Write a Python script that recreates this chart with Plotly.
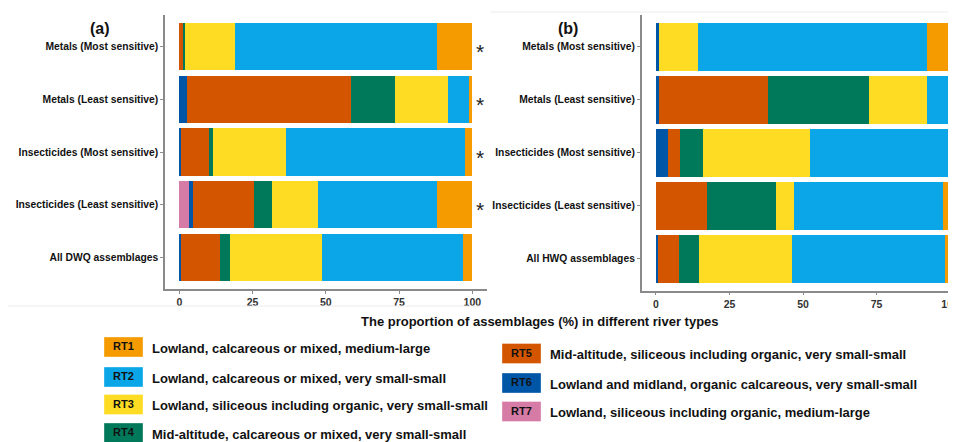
import plotly.graph_objects as go

# The page body has an 8px default margin; the figure is sized so that it ends at the window edge,
# and all positions below are given in window pixels (converted with OFF).
WIN_W, WIN_H = 956, 442
OFF = 8
W, H = WIN_W - OFF, WIN_H - OFF

cats_a = ["Metals (Most sensitive)", "Metals (Least sensitive)", "Insecticides (Most sensitive)",
          "Insecticides (Least sensitive)", "All DWQ assemblages"]
cats_b = ["Metals (Most sensitive)", "Metals (Least sensitive)", "Insecticides (Most sensitive)",
          "Insecticides (Least sensitive)", "All HWQ assemblages"]

river_types = ["RT7", "RT6", "RT5", "RT4", "RT3", "RT2", "RT1"]  # stacking order, left to right

vals_a = {
    "RT7": [0.0, 0.0, 0.0, 3.2, 0.0],
    "RT6": [0.0, 2.7, 0.6, 1.5, 0.7],
    "RT5": [1.2, 55.9, 9.4, 20.8, 13.3],
    "RT4": [0.8, 14.9, 1.6, 6.3, 3.4],
    "RT3": [17.0, 18.2, 24.9, 15.5, 31.4],
    "RT2": [69.0, 7.0, 61.0, 40.7, 47.9],
    "RT1": [12.0, 1.3, 2.5, 12.0, 3.3],
}
vals_b = {
    "RT7": [0.0, 0.0, 0.0, 0.0, 0.0],
    "RT6": [1.1, 1.1, 4.1, 0.0, 0.8],
    "RT5": [0.0, 37.1, 4.1, 17.5, 7.0],
    "RT4": [0.0, 34.2, 7.9, 23.2, 6.7],
    "RT3": [13.3, 19.9, 36.3, 6.3, 31.6],
    "RT2": [77.9, 7.7, 47.0, 50.5, 52.2],
    "RT1": [7.7, 0.0, 0.6, 2.5, 1.7],
}
signif_a = [True, True, True, True, False]
signif_b = [True, True, True, True, False]

colors = {
    "RT1": "#F59B00",
    "RT2": "#0AA6E8",
    "RT3": "#FEDC23",
    "RT4": "#00785A",
    "RT5": "#D45500",
    "RT6": "#0056A6",
    "RT7": "#D57BA6",
}
legend_left = [("RT1", "Lowland, calcareous or mixed, medium-large"),
               ("RT2", "Lowland, calcareous or mixed, very small-small"),
               ("RT3", "Lowland, siliceous including organic, very small-small"),
               ("RT4", "Mid-altitude, calcareous or mixed, very small-small")]
legend_right = [("RT5", "Mid-altitude, siliceous including organic, very small-small"),
                ("RT6", "Lowland and midland, organic calcareous, very small-small"),
                ("RT7", "Lowland, siliceous including organic, medium-large")]

x_ticks = [0, 25, 50, 75, 100]
x_title = "The proportion of assemblages (%) in different river types"

FONT = "Liberation Sans"

fig = go.Figure()
for rt in river_types:
    fig.add_trace(go.Bar(y=cats_a, x=vals_a[rt], orientation="h", marker=dict(color=colors[rt], line=dict(width=0)),
                         xaxis="x", yaxis="y", name=rt, showlegend=False))
for rt in river_types:
    fig.add_trace(go.Bar(y=cats_b, x=vals_b[rt], orientation="h", marker=dict(color=colors[rt], line=dict(width=0)),
                         xaxis="x2", yaxis="y2", name=rt, showlegend=False))


def px(x):
    return (x - OFF) / W


def py(y):
    return 1 - (y - OFF) / H


axis_common = dict(showline=True, linecolor="#8a8a8a", linewidth=1.5, ticks="outside",
                   tickcolor="#8a8a8a", ticklen=3, tickwidth=1, showgrid=False, zeroline=False,
                   automargin=False, ticklabeloverflow="allow")

fig.update_layout(
    width=W, height=H, margin=dict(l=0, r=0, t=0, b=0, autoexpand=False),
    paper_bgcolor="white", plot_bgcolor="white",
    barmode="stack", bargap=0.1,
    font=dict(family=FONT, color="#111111"),
    xaxis=dict(domain=[px(165), px(487)], range=[-4.88, 105.0], tickvals=x_ticks,
               tickfont=dict(size=10.5, color="#333333", weight="bold"), anchor="y", **axis_common),
    yaxis=dict(domain=[py(289), py(15)], type="category", categoryorder="array", categoryarray=cats_a,
               range=[4.6, -0.6], tickfont=dict(size=10.3, color="#111111", weight="bold"), anchor="x",
               **axis_common),
    xaxis2=dict(domain=[px(641.7), 1.0], range=[-4.86, 102.0], tickvals=x_ticks,
                tickfont=dict(size=10.5, color="#333333", weight="bold"), anchor="y2", **axis_common),
    yaxis2=dict(domain=[py(290.5), py(15)], type="category", categoryorder="array", categoryarray=cats_b,
                range=[4.6, -0.6], tickfont=dict(size=10.3, color="#111111", weight="bold"), anchor="x2",
                **axis_common),
)

ann = []
shapes = []


def text_at(text, x, y, size, xanchor="center"):
    ann.append(dict(text=text, x=px(x), y=py(y), xref="paper", yref="paper", showarrow=False,
                    xanchor=xanchor, yanchor="middle", font=dict(size=size, color="#111111")))


# panel letters
text_at("<b>(a)</b>", 100, 29, 16)
text_at("<b>(b)</b>", 568, 29, 16)
# significance asterisks
for c, s in zip(cats_a, signif_a):
    if s:
        ann.append(dict(text="*", x=102.7, y=c, xref="x", yref="y", showarrow=False, yshift=-5,
                        xanchor="center", yanchor="middle", font=dict(size=21, color="#222222")))
for c, s in zip(cats_b, signif_b):
    if s:
        ann.append(dict(text="*", x=100.9, y=c, xref="x2", yref="y2", showarrow=False, yshift=-5,
                        xanchor="center", yanchor="middle", font=dict(size=21, color="#222222")))
# common x-axis title
text_at("<b>" + x_title + "</b>", 540, 321, 13)

# faint image borders
shapes.append(dict(type="line", xref="paper", yref="paper", x0=0, x1=px(480), y0=py(306), y1=py(306),
                   line=dict(color="#ececec", width=1)))
shapes.append(dict(type="line", xref="paper", yref="paper", x0=px(490), x1=1, y0=py(12), y1=py(12),
                   line=dict(color="#ececec", width=1)))


# custom legend
def legend_item(code, label, bx, by, tx):
    shapes.append(dict(type="rect", xref="paper", yref="paper", x0=px(bx), x1=px(bx + 39),
                       y0=py(by + 10), y1=py(by - 10), fillcolor=colors[code],
                       line=dict(color="rgba(255,255,255,0.35)", width=1)))
    text_at("<b>" + code + "</b>", bx + 19.5, by - 1, 11)
    text_at("<b>" + label + "</b>", tx, by + 1, 13, xanchor="left")


left_y = [347, 377, 404.5, 433]
right_y = [353.5, 383, 411.5]
for (code, label), yy in zip(legend_left, left_y):
    legend_item(code, label, 104, yy, 150)
for (code, label), yy in zip(legend_right, right_y):
    legend_item(code, label, 502, yy, 548)

fig.update_layout(annotations=ann, shapes=shapes)
fig.write_html("out.html")
